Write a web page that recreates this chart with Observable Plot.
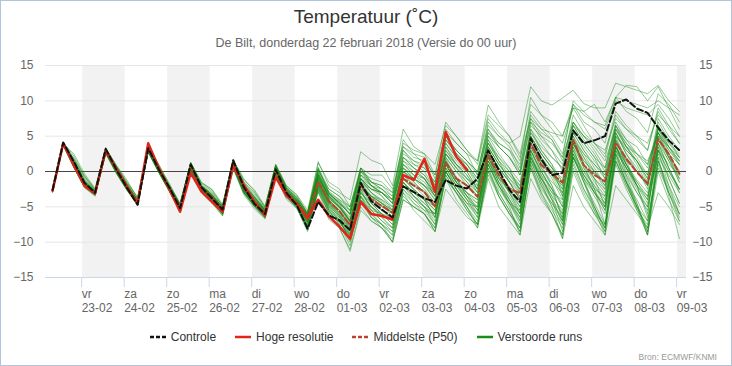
<!DOCTYPE html>
<html><head><meta charset="utf-8">
<script src="https://cdn.jsdelivr.net/npm/d3@7"></script>
<script src="https://cdn.jsdelivr.net/npm/@observablehq/plot@0.6"></script>
<style>
body{margin:0;background:#fff;}
#page{position:relative;width:732px;height:366px;overflow:hidden;background:#fff;font-family:"Liberation Sans",Arial,sans-serif;}
#border{position:absolute;left:0;top:0;width:732px;height:366px;box-sizing:border-box;border:1px solid #b0c4de;pointer-events:none;}
#title{position:absolute;left:0;top:6px;width:732px;text-align:center;font-size:19px;line-height:22px;color:#333;}
#subtitle{position:absolute;left:0;top:35px;width:732px;text-align:center;font-size:12.5px;line-height:16px;color:#666;}
#chart{position:absolute;left:0;top:55px;}
#legend{position:absolute;left:0;top:329px;width:732px;display:flex;justify-content:center;font-size:12px;line-height:16px;color:#333;}
.item{display:flex;align-items:center;margin:0 9.5px;}
.item svg{margin-right:5px;}
#source{position:absolute;right:15px;top:352px;font-size:8.5px;color:#999;}
</style></head>
<body>
<div id="page">
<div id="title">Temperatuur (˚C)</div>
<div id="subtitle">De Bilt, donderdag 22 februari 2018 (Versie do 00 uur)</div>
<div id="chart"></div>
<div id="legend"></div>
<div id="source">Bron: ECMWF/KNMI</div>
<div id="border"></div>
</div>
<script>
// ---- data (6-hourly values, first at 22-02 07h, hours counted from 22-02 00h) ----
const firstHour = 7;
const stepHours = 6;
const tickHours = [24,48,72,96,120,144,168,192,216,240,264,288,312,336,360];
const dayLabels = ["vr","za","zo","ma","di","wo","do","vr","za","zo","ma","di","wo","do","vr"];
const dateLabels = ["23-02","24-02","25-02","26-02","27-02","28-02","01-03","02-03","03-03","04-03","05-03","06-03","07-03","08-03","09-03"];
const shadedDayStarts = [24,72,120,168,216,264,312,360];
const yTicks = [-15,-10,-5,0,5,10,15];

const controle = [-2.6,4.1,1.4,-1.6, -3.0,3.2,0.3,-2.3, -4.7,3.3,0.3,-2.3, -5.2,1.0,-2.2,-3.8, -5.4,1.6,-2.2,-4.6, -6.0,0.3,-3.0,-4.8, -8.1,-4.3,-6.2,-6.9, -8.3,-1.6,-4.2,-5.4, -6.5,-2.1,-2.9,-3.8, -4.3,-1.2,-2.0,-2.4, -1.0,3.0,0.2,-2.6, -4.3,4.7,1.8,-0.5, -0.2,5.8,4.0,4.4, 5.0,9.6,10.2,8.9, 8.3,6.2,4.4,3.0];
const hogeResolutie = [-2.7,4.0,0.9,-2.0, -3.1,3.0,0.4,-2.1, -4.6,4.0,0.5,-2.5, -5.7,-0.2,-2.8,-4.3, -5.7,0.8,-1.9,-4.3, -6.2,-0.8,-3.4,-4.6, -6.5,-4.0,-6.3,-7.8, -9.5,-4.3,-6.0,-6.3, -6.8,-0.5,-1.2,1.8, -2.9,5.6,2.1,0.2];
const middelste = [-2.7,3.9,1.0,-1.9, -3.1,2.9,0.2,-2.3, -4.4,3.2,0.3,-2.4, -5.0,0.8,-2.3,-3.6, -5.4,1.2,-2.4,-4.3, -5.9,0.3,-2.9,-4.5, -6.8,-1.4,-4.2,-5.6, -7.6,-2.0,-3.9,-4.9, -5.8,-1.0,-2.0,-2.9, -5.0,1.3,-1.0,-2.0, -3.6,2.3,-0.5,-2.4, -3.1,4.0,0.9,-0.3, -1.6,4.5,0.9,-0.5, -1.4,4.1,1.8,-0.1, -1.7,4.6,2.5,-0.3];

const run01 = [-2.8,3.8,0.8,-2.0, -3.2,2.8,0.0,-2.4, -4.5,3.0,0.1,-2.6, -5.2,0.6,-2.6,-3.9, -5.6,1.0,-2.6,-4.5, -6.0,0.2,-3.1,-4.6, -7.0,-1.5,-4.4,-6.0, -8.0,-2.8,-5.0,-6.2, -7.0,-1.0,-2.6,-3.8, -5.5,1.0,-1.5,-3.0, -4.5,2.0,-0.8,-2.8, -4.5,3.5,0.5,-1.5, -3.0,4.0,1.0,-1.0, -2.5,3.5,1.0,-1.2, -3.0,4.0,1.5,-1.0];
const run02 = [-2.6,4.0,1.2,-1.6, -2.9,3.0,0.3,-2.0, -4.2,3.2,0.4,-2.3, -4.9,1.0,-2.2,-3.5, -5.2,1.3,-2.0,-4.0, -5.6,0.6,-2.6,-4.2, -6.4,-0.6,-3.8,-5.0, -6.5,-1.0,-2.5,-3.0, -4.0,2.0,1.0,0.5, -1.5,4.5,3.0,1.5, 0.0,6.5,5.0,4.0, 5.0,12.0,10.0,9.4, 10.4,11.5,9.6,9.0, 9.0,12.5,12.0,11.5, 11.0,12.2,10.0,8.5];
const run03 = [-2.7,3.9,1.5,-1.2, -2.8,3.1,0.6,-1.8, -4.0,2.9,0.5,-2.0, -4.8,1.2,-2.0,-3.2, -5.0,1.5,-1.5,-3.5, -5.3,0.8,-2.2,-3.8, -6.0,0.2,-2.5,-3.5, -5.0,0.0,-1.0,-1.5, -3.0,3.5,2.0,1.5, -0.5,5.5,4.0,2.5, 1.5,9.4,7.0,5.0, 2.5,9.5,8.0,7.0, 5.0,9.0,8.5,9.5, 7.0,10.5,10.0,9.5, 9.0,10.0,9.0,8.0];
const run04 = [-2.9,3.7,0.5,-2.2, -3.3,2.6,-0.2,-2.6, -4.6,2.8,0.0,-2.8, -5.5,0.4,-2.8,-4.2, -6.0,0.8,-2.9,-4.8, -6.4,0.0,-3.4,-4.9, -7.8,-2.5,-5.5,-7.0, -9.5,-4.0,-6.5,-7.5, -9.0,-3.0,-4.5,-5.5, -7.5,-1.0,-3.0,-5.0, -7.0,0.5,-3.0,-5.5, -8.0,1.0,-2.5,-4.5, -7.0,2.0,-1.0,-3.5, -6.0,1.5,-1.5,-4.0, -7.0,0.5,-3.0,-6.0];
const run05 = [-2.7,4.0,0.9,-2.0, -3.1,3.0,0.3,-2.2, -4.5,3.5,0.4,-2.5, -5.4,0.0,-2.7,-4.1, -5.6,0.8,-1.9,-4.1, -6.0,-0.4,-3.2,-4.5, -6.6,-3.0,-5.8,-7.2, -9.0,-4.0,-5.5,-6.0, -6.5,-0.5,-1.0,1.5, -2.5,5.0,2.5,0.5, -1.5,4.0,1.5,-0.5, -2.0,5.0,2.5,0.5, -1.0,6.5,4.0,2.0, 0.5,7.0,4.5,2.5, 1.0,6.0,3.5,1.5];
const run06 = [-2.7,3.9,1.1,-1.7, -3.0,2.9,0.2,-2.2, -4.3,3.1,0.3,-2.4, -5.0,0.8,-2.4,-3.6, -5.4,1.2,-2.5,-4.3, -5.8,0.3,-2.9,-4.5, -6.8,-1.2,-4.0,-5.5, -7.5,-2.0,-3.8,-4.8, -5.8,-0.5,-1.8,-2.8, -4.5,1.8,-0.8,-2.0, -3.5,2.6,-0.3,-2.2, -3.5,4.0,1.2,-0.5, -2.0,4.5,1.5,-0.3, -1.5,4.2,1.8,0.0, -1.7,4.5,2.0,0.0];
const run07 = [-2.8,3.9,0.7,-2.1, -3.3,2.7,-0.1,-2.5, -4.6,2.9,-0.1,-2.7, -5.6,0.3,-2.8,-4.3, -6.2,0.6,-3.0,-5.0, -6.6,-0.2,-3.6,-5.2, -8.3,-2.0,-5.5,-7.5, -10.5,-3.5,-6.5,-8.0, -10.0,-2.5,-4.5,-6.0, -8.0,0.0,-2.5,-5.0, -8.0,1.5,-2.0,-5.0, -9.0,2.5,-1.5,-5.0, -9.5,3.5,-1.0,-5.0, -8.5,4.0,-0.5,-4.5, -9.0,3.0,-2.0,-6.0];
const run08 = [-2.6,4.0,1.8,-0.8, -2.6,3.2,0.7,-1.7, -3.9,3.3,0.6,-2.1, -4.7,1.1,-2.0,-3.3, -5.0,1.5,-1.8,-3.6, -5.4,0.7,-2.4,-3.8, -6.0,0.5,-3.0,-4.5, -6.0,0.5,-1.5,-2.5, -3.5,4.5,2.5,1.0, -2.0,6.0,4.0,2.5, -0.5,7.0,5.0,3.5, 0.5,8.5,6.5,5.0, 2.5,9.5,7.0,6.0, 4.0,10.5,8.5,7.5, 5.5,11.0,9.5,7.0];
const run09 = [-2.9,3.8,0.6,-2.3, -3.5,2.5,-0.3,-2.7, -4.8,2.7,-0.2,-2.9, -5.7,0.2,-3.0,-4.5, -6.3,0.4,-3.3,-5.3, -6.7,-0.6,-3.9,-5.3, -8.5,-2.8,-6.8,-8.0, -11.0,-5.0,-7.0,-8.0, -10.0,-4.0,-5.0,-6.0, -8.5,-1.0,-4.0,-6.0, -8.0,-1.0,-5.0,-7.0, -9.0,-1.0,-4.0,-6.0, -9.5,-2.0,-5.0,-7.0, -9.0,-2.0,-4.0,-6.0, -8.0,-3.0,-5.0,-7.5];
const run10 = [-2.7,3.9,2.5,-0.3, -2.4,3.4,0.8,-1.5, -3.6,3.6,1.0,-1.9, -4.5,1.3,-1.6,-2.5, -4.6,1.6,-1.2,-2.6, -4.9,1.0,-2.0,-3.3, -5.5,1.4,-2.0,-3.0, -4.0,2.8,1.6,1.0, -2.0,6.0,3.5,2.5, -0.5,7.0,5.0,3.0, 1.5,8.0,6.5,5.0, 2.0,7.5,5.0,3.0, 0.0,6.5,4.0,2.0, -1.0,5.5,3.0,1.5, -0.5,6.0,4.0,2.5];
const run11 = [-2.7,3.9,1.0,-1.9, -3.1,2.8,0.1,-2.3, -4.4,3.0,0.2,-2.5, -5.1,0.7,-2.5,-3.8, -5.5,1.0,-2.6,-4.4, -5.9,0.2,-3.0,-4.6, -6.9,-1.8,-4.8,-6.3, -8.8,-3.0,-4.5,-5.5, -6.5,0.5,-1.0,-2.0, -3.5,3.0,1.0,-0.5, -2.5,4.5,1.5,-1.5, -4.0,3.0,0.0,-2.5, -5.0,2.5,0.0,-2.0, -4.0,3.0,0.5,-1.5, -3.5,2.0,-0.5,-3.0];
const run12 = [-2.6,4.1,1.3,-1.5, -2.9,3.1,0.4,-2.0, -4.2,3.3,0.5,-2.2, -4.8,1.1,-2.1,-3.4, -5.1,1.4,-2.1,-3.8, -5.5,0.6,-2.6,-4.1, -6.2,-0.8,-3.5,-5.0, -7.0,-1.5,-3.0,-4.0, -5.0,1.0,-0.5,-1.5, -3.5,2.5,0.5,-1.0, -2.5,3.5,1.0,-1.0, -3.0,5.5,3.0,1.0, -1.5,6.0,3.5,1.5, -0.5,6.5,4.0,2.0, -0.5,7.5,5.0,3.0];
const run13 = [-2.8,3.8,0.9,-1.9, -3.2,2.8,0.0,-2.4, -4.5,2.9,0.0,-2.7, -5.3,0.5,-2.7,-4.0, -5.7,0.9,-2.8,-4.6, -6.1,0.1,-3.3,-4.8, -7.4,-2.0,-5.0,-6.8, -9.8,-3.5,-5.5,-7.0, -8.5,-2.0,-3.5,-5.0, -7.0,0.5,-2.0,-4.0, -6.0,1.0,-2.5,-4.5, -7.0,2.0,-1.0,-3.5, -7.5,1.0,-2.5,-5.0, -8.0,2.0,-1.5,-4.5, -8.5,1.0,-3.0,-6.5];
const run14 = [-2.7,3.9,1.2,-1.6, -2.9,3.0,0.4,-2.1, -4.2,3.2,0.3,-2.3, -4.9,0.9,-2.3,-3.5, -5.3,1.2,-2.3,-4.1, -5.7,0.5,-2.8,-4.3, -6.5,-0.5,-3.5,-4.5, -5.5,-0.5,-2.0,-3.5, -5.5,0.0,-1.5,-3.0, -5.0,1.5,-1.0,-3.5, -5.0,2.0,-1.0,-3.0, -5.5,3.5,0.5,-2.0, -5.0,4.0,1.0,-1.5, -3.5,5.5,2.5,0.0, -2.0,6.0,3.0,1.0];
const run15 = [-2.9,3.7,0.6,-2.2, -3.4,2.6,-0.2,-2.6, -4.7,2.8,-0.1,-2.8, -5.5,0.3,-2.9,-4.3, -6.1,0.5,-3.1,-5.0, -6.5,-0.3,-3.7,-5.1, -8.0,-2.5,-6.0,-8.0, -11.3,-5.5,-7.0,-8.0, -9.5,-3.5,-5.0,-6.0, -8.0,-1.0,-3.0,-5.0, -7.5,0.0,-3.0,-5.5, -8.5,0.5,-3.5,-6.0, -9.0,0.0,-3.5,-6.0, -7.5,1.5,-2.0,-5.0, -9.0,0.0,-4.0,-7.0];
const run16 = [-2.6,4.0,1.4,-1.4, -2.8,3.1,0.5,-1.9, -4.1,3.2,0.4,-2.2, -4.8,1.0,-2.1,-3.3, -5.1,1.4,-1.9,-3.7, -5.5,0.7,-2.5,-4.0, -6.1,-0.2,-3.0,-4.0, -5.0,0.5,-0.5,-0.5, -2.5,4.0,3.0,2.5, 1.0,6.5,5.0,3.0, 1.0,7.5,5.5,4.0, 1.5,10.5,8.0,6.0, 4.0,9.0,6.5,4.0, 2.0,8.0,6.0,4.5, 3.0,9.0,6.5,4.0];
const run17 = [-2.8,3.9,0.8,-2.0, -3.1,2.8,0.1,-2.3, -4.4,3.0,0.2,-2.5, -5.2,0.6,-2.6,-3.9, -5.6,1.0,-2.7,-4.5, -6.0,0.2,-3.1,-4.7, -7.2,-1.5,-4.6,-6.5, -8.5,-2.5,-5.5,-7.0, -8.0,-2.0,-3.5,-4.5, -6.0,1.5,-1.0,-3.0, -5.5,3.0,0.0,-2.5, -5.0,4.5,1.5,-1.0, -4.0,5.0,2.0,-1.0, -5.0,4.5,1.0,-2.0, -6.0,4.0,0.5,-3.0];
const run18 = [-2.7,3.9,1.0,-1.8, -3.0,2.9,0.2,-2.2, -4.3,3.1,0.3,-2.4, -5.0,0.8,-2.4,-3.7, -5.4,1.1,-2.4,-4.3, -5.8,0.4,-2.9,-4.4, -6.7,-1.0,-3.5,-5.0, -7.0,-1.0,-3.0,-4.5, -6.5,-1.5,-3.0,-4.0, -5.5,0.5,-2.0,-3.5, -4.5,1.5,-1.5,-3.5, -6.0,3.0,0.0,-2.5, -6.5,4.0,0.5,-2.5, -5.5,4.5,1.0,-2.0, -4.5,5.0,2.0,-1.0];
const run19 = [-2.6,4.0,1.6,-1.2, -2.7,3.2,0.6,-1.8, -4.0,3.3,0.6,-2.1, -4.6,1.2,-1.9,-3.0, -4.8,1.6,-1.6,-3.2, -5.2,0.9,-2.3,-3.7, -5.8,0.6,-2.5,-3.5, -5.5,0.0,-1.5,-2.5, -4.0,3.0,1.0,0.0, -2.5,4.5,2.5,1.0, -1.0,6.0,3.5,2.0, -0.5,7.0,4.5,3.0, 1.0,8.0,5.5,4.0, 2.5,8.5,6.5,5.0, 3.0,8.5,6.0,4.0];
const run20 = [-2.8,3.8,0.7,-2.1, -3.3,2.7,-0.1,-2.5, -4.6,2.9,0.0,-2.7, -5.4,0.4,-2.7,-4.1, -5.8,0.8,-2.9,-4.7, -6.2,0.0,-3.3,-4.9, -7.6,-2.2,-5.2,-7.0, -9.0,-4.0,-6.0,-7.5, -10.0,-4.0,-5.0,-6.0, -8.5,-0.5,-3.0,-5.5, -7.5,0.0,-3.5,-6.0, -8.0,1.5,-2.0,-4.5, -6.5,3.0,-0.5,-3.0, -5.0,3.5,0.5,-2.5, -5.0,2.5,-1.0,-4.5];
const run21 = [-2.7,3.9,0.9,-1.9, -3.0,2.9,0.1,-2.3, -4.3,3.1,0.2,-2.5, -5.0,0.7,-2.5,-3.8, -5.5,1.1,-2.5,-4.4, -5.9,0.3,-3.0,-4.5, -6.9,-1.0,-4.0,-5.5, -7.8,-2.0,-4.0,-5.5, -6.5,0.0,-1.0,-2.0, -3.0,2.5,0.5,-1.0, -2.0,3.5,1.0,-0.5, -2.5,6.0,4.0,2.0, 0.5,7.0,5.0,3.5, 1.5,6.0,4.0,2.5, 0.5,5.5,3.5,1.5];
const run22 = [-2.7,3.9,1.1,-1.7, -3.0,2.9,0.3,-2.1, -4.3,3.1,0.3,-2.4, -5.1,0.7,-2.4,-3.7, -5.5,1.1,-2.5,-4.4, -5.9,0.3,-3.0,-4.6, -7.0,-1.8,-4.5,-6.2, -8.2,-2.5,-4.5,-6.0, -7.0,-1.0,-2.5,-4.0, -6.5,1.0,-1.5,-4.0, -6.5,2.0,-1.5,-4.5, -7.5,3.0,-0.5,-4.0, -8.5,2.5,-1.5,-5.0, -8.0,3.0,-1.0,-5.0, -8.5,2.0,-3.5,-9.5];
const run23 = [-2.6,4.0,1.3,-1.5, -2.9,3.0,0.4,-2.0, -4.2,3.2,0.4,-2.3, -4.9,0.9,-2.2,-3.5, -5.2,1.3,-2.2,-4.0, -5.6,0.5,-2.7,-4.2, -6.4,-1.0,-3.8,-5.0, -7.0,-1.5,-2.5,-3.0, -4.5,1.5,0.5,-0.5, -3.0,3.5,1.5,0.0, -2.5,4.0,2.0,0.5, -1.5,5.5,3.5,2.0, 0.5,6.5,5.0,4.0, 3.0,7.5,6.0,5.0, 4.0,8.0,6.5,5.0];
const run24 = [-2.8,3.8,0.8,-2.0, -3.2,2.8,0.0,-2.4, -4.5,2.9,0.1,-2.6, -5.2,0.6,-2.6,-3.9, -5.7,0.9,-2.7,-4.6, -6.1,0.1,-3.2,-4.8, -7.3,-2.0,-4.8,-6.5, -8.8,-3.5,-5.0,-6.0, -7.5,-1.5,-3.0,-4.5, -6.0,0.0,-2.5,-4.5, -6.0,1.0,-2.0,-4.0, -6.5,2.0,-1.5,-4.0, -7.0,2.0,-1.5,-4.5, -7.5,1.5,-2.0,-5.0, -7.0,1.5,-2.0,-5.0];
const run25 = [-2.7,4.0,1.2,-1.6, -2.9,3.0,0.4,-2.1, -4.2,3.2,0.4,-2.3, -4.9,0.9,-2.2,-3.5, -5.3,1.2,-2.2,-4.1, -5.7,0.5,-2.8,-4.3, -6.0,1.2,-1.5,-2.5, -5.0,0.5,-2.0,-3.0, -4.0,2.0,0.5,-1.0, -3.5,3.5,1.0,-1.0, -3.0,4.5,2.0,0.0, -2.0,5.0,2.5,0.5, -2.5,4.0,1.5,0.0, -1.5,3.5,1.5,0.0, -1.5,3.0,1.0,-0.5];
const run26 = [-2.7,3.9,0.9,-1.9, -3.1,2.9,0.2,-2.3, -4.4,3.1,0.2,-2.5, -5.1,0.8,-2.5,-3.8, -5.5,1.0,-2.6,-4.4, -5.9,0.2,-3.0,-4.6, -7.1,-1.3,-4.2,-5.8, -7.5,-1.5,-3.5,-5.0, -6.0,-0.5,-2.0,-3.5, -5.0,1.0,-1.5,-3.0, -4.0,2.5,-0.5,-3.0, -5.0,3.0,0.0,-3.0, -6.0,3.5,0.5,-2.0, -4.5,5.5,2.5,0.5, -2.5,6.5,3.5,1.0];
const run27 = [-2.6,4.0,1.5,-1.3, -2.8,3.1,0.5,-1.9, -4.1,3.2,0.5,-2.2, -4.8,1.0,-2.1,-3.4, -5.1,1.4,-2.0,-3.8, -5.5,0.7,-2.5,-4.0, -6.2,-0.5,-3.5,-5.0, -7.0,-2.0,-3.5,-4.5, -5.5,0.0,-1.0,-2.0, -4.0,2.5,1.0,0.0, -2.5,5.0,3.5,2.0, -0.5,6.5,5.0,4.0, 2.0,10.0,8.5,7.0, 6.0,10.0,9.0,8.5, 8.0,9.5,7.5,5.0];
const run28 = [-2.9,3.8,0.7,-2.1, -3.3,2.7,-0.1,-2.5, -4.7,2.8,-0.1,-2.7, -5.5,0.4,-2.8,-4.2, -6.0,0.6,-3.0,-4.9, -6.4,-0.2,-3.5,-5.0, -7.9,-2.8,-5.8,-7.2, -9.2,-3.5,-6.0,-7.5, -9.0,-2.5,-4.0,-5.0, -7.5,-0.5,-3.0,-5.5, -7.5,0.5,-3.5,-6.0, -8.5,1.0,-3.0,-6.0, -9.0,1.5,-2.5,-5.5, -9.0,2.5,-1.5,-5.0, -8.0,3.5,-1.0,-4.5];
const run29 = [-2.7,3.9,1.0,-1.8, -3.0,2.9,0.2,-2.2, -4.3,3.1,0.3,-2.4, -5.0,0.8,-2.4,-3.6, -5.4,1.1,-2.4,-4.2, -5.8,0.4,-2.9,-4.4, -6.6,-0.8,-3.8,-5.2, -7.2,-1.0,-2.5,-3.5, -5.0,1.5,0.0,-1.0, -3.5,3.0,1.0,-0.5, -3.0,3.0,0.5,-1.5, -4.0,4.5,2.0,0.0, -3.0,5.5,3.0,0.5, -2.0,6.0,3.5,1.5, -1.0,7.0,4.5,2.0];
const run30 = [-2.8,3.9,0.8,-2.0, -3.1,2.8,0.1,-2.3, -4.4,3.0,0.2,-2.5, -5.1,0.7,-2.5,-3.8, -5.6,1.0,-2.6,-4.5, -6.0,0.2,-3.1,-4.7, -7.2,-1.5,-4.0,-5.5, -7.5,-2.0,-4.5,-6.0, -7.5,-1.5,-3.5,-5.0, -6.0,0.0,-2.0,-4.0, -5.0,1.5,-1.5,-4.0, -6.0,2.0,-1.0,-3.5, -5.5,2.5,-0.5,-3.0, -4.5,3.5,0.5,-2.0, -4.0,4.5,1.5,-1.5];
const run31 = [-2.6,4.1,1.3,-1.5, -2.8,3.1,0.5,-1.9, -4.1,3.3,0.5,-2.2, -4.8,1.1,-2.0,-3.3, -5.0,1.5,-1.8,-3.6, -5.4,0.7,-2.4,-3.9, -6.0,0.0,-3.0,-4.5, -6.0,-0.5,-1.5,-2.0, -3.5,3.0,1.5,0.5, -1.5,5.0,3.0,1.5, 0.0,6.0,4.0,3.0, 1.0,7.5,6.0,5.5, 5.0,9.5,8.0,7.0, 6.5,10.5,12.2,12.0, 10.0,12.0,9.0,6.0];
const run32 = [-2.7,3.9,1.0,-1.8, -3.0,2.9,0.3,-2.2, -4.3,3.1,0.3,-2.4, -5.0,0.8,-2.3,-3.7, -5.4,1.1,-2.3,-4.3, -5.8,0.4,-2.9,-4.5, -6.7,0.3,-3.0,-4.5, -6.0,-0.5,-2.0,-3.0, -4.5,1.0,-0.5,-2.0, -4.0,2.0,0.0,-2.0, -3.5,3.0,0.5,-1.5, -3.0,4.0,1.5,-0.5, -2.5,4.5,2.0,0.0, -2.0,4.5,2.0,0.0, -2.0,5.5,2.5,0.0];
const run33 = [-2.5,4.1,2.2,-0.6, -2.6,3.3,0.9,-1.2, -3.8,3.4,0.9,-1.7, -4.6,1.3,-1.5,-2.6, -4.9,1.6,-1.0,-2.8, -5.1,1.0,-2.0,-3.4, -6.0,-0.2,-3.2,-4.6, -6.8,-1.2,-3.0,-4.2, -6.0,0.5,-1.0,-2.5, -4.5,2.0,0.0,-1.5, -3.5,3.0,0.5,-1.5, -4.0,4.0,1.5,-0.5, -3.5,4.0,1.0,-1.0, -3.0,3.5,1.0,-1.5, -4.0,3.5,0.5,-2.5];
const run34 = [-2.8,3.8,0.9,-2.0, -3.2,2.7,0.0,-2.4, -4.4,2.9,0.1,-2.6, -5.1,0.6,-2.6,-3.8, -5.5,0.9,-2.6,-4.4, -5.9,0.1,-3.1,-4.6, -7.0,-1.6,-4.3,-5.8, -7.8,-2.2,-4.2,-5.5, -6.8,-1.5,-3.0,-4.0, -5.0,0.5,-1.5,-3.0, -4.0,1.5,-1.0,-2.5, -3.5,2.0,-0.5,-2.5, -4.5,2.0,-1.0,-3.0, -5.5,2.5,-0.5,-3.0, -5.0,3.0,0.0,-2.5];
const run35 = [-2.7,3.9,1.7,-1.0, -2.7,3.1,0.6,-1.8, -4.1,3.2,0.5,-2.2, -4.8,1.1,-2.0,-3.2, -5.1,1.4,-2.0,-3.6, -5.5,0.6,-2.6,-4.1, -6.3,-0.6,-3.6,-5.0, -7.2,-1.8,-3.5,-4.5, -5.5,0.5,-0.5,-1.0, -3.0,4.0,2.0,0.5, -2.0,5.0,2.5,0.5, -3.0,6.0,3.0,1.0, -3.5,5.0,2.5,0.0, -2.5,6.5,3.5,1.0, -2.0,5.0,2.0,-0.5];
const run36 = [-2.8,3.9,0.7,-2.1, -3.2,2.8,-0.1,-2.5, -4.6,2.9,0.0,-2.7, -5.4,0.5,-2.7,-4.1, -5.9,0.8,-2.8,-4.8, -6.3,0.0,-3.3,-5.0, -7.6,-2.0,-5.0,-6.8, -9.0,-3.0,-5.0,-6.5, -8.0,-1.5,-3.5,-5.0, -6.5,1.0,-1.5,-3.5, -5.5,2.5,-0.5,-3.0, -6.0,4.0,1.0,-2.0, -7.0,4.5,1.0,-2.5, -7.5,5.0,1.5,-2.0, -6.5,5.5,2.0,-1.5];
const run37 = [-2.6,4.0,1.1,-1.7, -2.9,3.0,0.3,-2.1, -4.2,3.1,0.3,-2.3, -4.9,0.9,-2.3,-3.6, -5.3,1.2,-2.3,-4.2, -5.7,0.4,-2.8,-4.4, -6.5,-1.0,-3.2,-4.2, -6.0,-1.0,-2.5,-3.0, -4.5,1.0,0.0,-1.0, -3.0,2.5,0.5,-1.5, -3.0,3.5,1.0,-1.0, -2.5,5.0,2.5,0.5, -1.5,5.5,3.0,1.0, -0.5,5.0,3.5,2.5, 1.5,5.0,3.5,2.0];
const run38 = [-2.9,3.7,0.6,-2.2, -3.3,2.6,-0.1,-2.6, -4.6,2.8,-0.1,-2.8, -5.5,0.4,-2.8,-4.2, -6.0,0.7,-3.0,-4.9, -6.5,-0.1,-3.5,-5.1, -8.0,-2.5,-5.5,-7.5, -10.0,-4.5,-6.5,-7.5, -8.5,-3.0,-5.5,-7.0, -8.5,-2.5,-4.5,-6.5, -7.5,-0.5,-3.5,-6.0, -8.0,0.5,-3.0,-5.5, -8.0,0.5,-3.0,-6.0, -8.5,1.0,-2.5,-5.5, -7.5,1.5,-2.5,-6.0];
const run39 = [-2.7,3.9,1.2,-1.6, -2.9,3.0,0.4,-2.1, -4.2,3.2,0.4,-2.3, -4.9,0.9,-2.2,-3.5, -5.2,1.3,-2.2,-4.0, -5.6,0.5,-2.7,-4.2, -6.3,-0.4,-3.3,-4.3, -6.2,0.5,-1.5,-2.0, -3.0,3.5,2.5,2.0, -1.0,4.0,2.0,1.0, -1.0,5.5,4.0,3.0, 0.0,7.0,5.5,4.5, 2.0,7.0,5.0,3.0, 0.5,6.5,4.5,3.5, 1.0,5.5,3.0,1.5];
const run40 = [-2.8,3.8,0.8,-2.0, -3.1,2.8,0.1,-2.3, -4.4,3.0,0.2,-2.5, -5.2,0.6,-2.5,-3.9, -5.6,1.0,-2.6,-4.5, -6.0,0.2,-3.1,-4.6, -7.1,-1.7,-4.5,-6.2, -8.3,-2.5,-3.5,-4.0, -5.5,0.0,-1.5,-3.0, -5.0,1.5,-1.0,-3.5, -6.0,2.0,-1.0,-4.0, -7.0,2.5,-1.0,-4.0, -6.0,3.0,0.0,-3.0, -5.0,3.5,0.0,-3.0, -5.5,4.0,0.5,-2.5];
const run41 = [-2.6,4.0,1.9,-0.6, -2.5,3.3,0.8,-1.5, -3.7,3.4,0.8,-2.0, -4.6,1.2,-1.7,-2.8, -4.8,1.7,-1.4,-3.0, -5.0,0.9,-2.2,-3.6, -5.8,0.3,-2.8,-4.0, -5.5,0.0,-2.0,-3.0, -4.5,2.0,0.5,-0.5, -2.5,5.0,3.0,1.5, -0.5,5.5,3.5,2.0, 0.0,8.0,6.0,4.5, 1.5,7.0,4.5,2.5, 0.0,6.0,3.5,1.5, -1.0,6.5,4.0,2.0];
const run42 = [-2.7,3.9,0.9,-1.9, -3.1,2.9,0.1,-2.3, -4.4,3.0,0.2,-2.5, -5.1,0.7,-2.5,-3.8, -5.5,1.0,-2.6,-4.4, -5.9,0.2,-3.0,-4.6, -6.9,-1.4,-4.3,-6.0, -8.0,-2.0,-3.5,-4.5, -6.0,-1.0,-2.5,-4.0, -6.5,0.0,-2.5,-4.5, -6.5,1.0,-2.0,-4.5, -5.5,1.5,-1.0,-3.0, -4.0,2.0,-0.5,-2.5, -3.5,3.0,0.5,-2.0, -3.5,3.0,0.0,-2.5];
const run43 = [-2.6,4.0,1.3,-1.5, -2.8,3.1,0.5,-2.0, -4.1,3.2,0.4,-2.2, -4.8,1.0,-2.1,-3.4, -5.1,1.3,-2.1,-3.9, -5.5,0.6,-2.6,-4.1, -6.3,-0.3,-3.4,-4.8, -7.0,-1.0,-2.0,-2.5, -4.0,2.5,1.5,1.0, -2.0,4.5,2.5,1.0, -1.5,4.0,1.5,0.0, -2.5,3.5,1.5,0.0, -2.0,4.5,2.5,1.0, -1.0,5.0,3.0,1.5, -1.5,4.5,2.5,1.0];
const run44 = [-2.8,3.8,0.7,-2.1, -3.3,2.7,-0.1,-2.5, -4.6,2.9,0.0,-2.7, -5.5,0.4,-2.7,-4.1, -6.0,0.7,-2.9,-4.8, -6.4,-0.1,-3.4,-5.0, -7.7,-2.3,-5.3,-7.0, -9.5,-3.0,-5.0,-6.5, -8.0,-2.0,-4.0,-5.5, -6.0,0.0,-2.5,-4.5, -5.0,1.0,-2.0,-4.5, -6.5,1.5,-2.0,-5.0, -7.5,2.0,-1.5,-5.5, -8.0,2.5,-1.5,-5.5, -9.0,1.5,-3.0,-7.0];
const verstoordeRuns = [run01,run02,run03,run04,run05,run06,run07,run08,run09,run10,run11,run12,run13,run14,run15,run16,run17,run18,run19,run20,run21,run22,run23,run24,run25,run26,run27,run28,run29,run30,run31,run32,run33,run34,run35,run36,run37,run38,run39,run40,run41,run42,run43,run44];

// ---- styling ----
const greenRun = "#138a13", redHres = "#e0261b", p50Col = "#b5452b";

const toRows = (arr, name) => arr.map((v, i) => ({t: firstHour + i * stepHours, v, name}));
const runRows = verstoordeRuns.flatMap((r, j) => toRows(r, "run" + j));

const chart = Plot.plot({
  width: 732, height: 265,
  marginLeft: 45, marginRight: 46, marginTop: 10, marginBottom: 43,
  x: {domain: [3, 365]},
  y: {domain: [-15, 15]},
  style: {fontFamily: "'Liberation Sans', Arial, sans-serif", fontSize: "12px", color: "#666", background: "transparent", overflow: "visible"},
  marks: [
    Plot.rect(shadedDayStarts, {x1: d => d, x2: d => Math.min(d + 24, 365), fill: "#f2f2f2"}),
    Plot.gridY(yTicks, {stroke: "#e6e6e6", strokeOpacity: 1}),
    Plot.ruleY([-15], {stroke: "#ccd6eb"}),
    Plot.axisY(yTicks, {anchor: "left", label: null, tickSize: 0, tickPadding: 12, fill: "#666"}),
    Plot.axisY(yTicks, {anchor: "right", label: null, tickSize: 0, tickPadding: 26, textAnchor: "end", fill: "#666"}),
    Plot.axisX(tickHours, {anchor: "bottom", label: null, tickSize: 10, tickPadding: 0, stroke: "#ccd6eb", strokeOpacity: 1,
      textAnchor: "start", dx: -1, lineHeight: 1.2, fill: "#666",
      tickFormat: d => { const i = tickHours.indexOf(d); return dayLabels[i] + "\n" + dateLabels[i]; }}),
    Plot.ruleY([0], {stroke: "#444", strokeWidth: 1}),
    Plot.line(runRows, {x: "t", y: "v", z: "name", stroke: greenRun, strokeOpacity: 0.45, strokeWidth: 1}),
    Plot.line(toRows(middelste, "p50"), {x: "t", y: "v", stroke: p50Col, strokeWidth: 2, strokeDasharray: "6,3"}),
    Plot.line(toRows(hogeResolutie, "hres"), {x: "t", y: "v", stroke: redHres, strokeWidth: 2.5}),
    Plot.line(toRows(controle, "ctrl"), {x: "t", y: "v", stroke: "#111", strokeWidth: 2, strokeDasharray: "6,3"})
  ]
});
document.getElementById("chart").appendChild(chart);

// ---- legend ----
const legendItems = [
  {label: "Controle", color: "#111", dash: "4,2"},
  {label: "Hoge resolutie", color: redHres, dash: null},
  {label: "Middelste (P50)", color: p50Col, dash: "4,2"},
  {label: "Verstoorde runs", color: "#1a8c1a", dash: null}
];
const legend = document.getElementById("legend");
for (const it of legendItems) {
  const div = document.createElement("div");
  div.className = "item";
  div.innerHTML = `<svg width="16" height="12"><line x1="0" x2="16" y1="6" y2="6" stroke="${it.color}" stroke-width="2.5" ${it.dash ? `stroke-dasharray="${it.dash}"` : ""}/></svg><span>${it.label}</span>`;
  legend.appendChild(div);
}
</script>
</body></html>
